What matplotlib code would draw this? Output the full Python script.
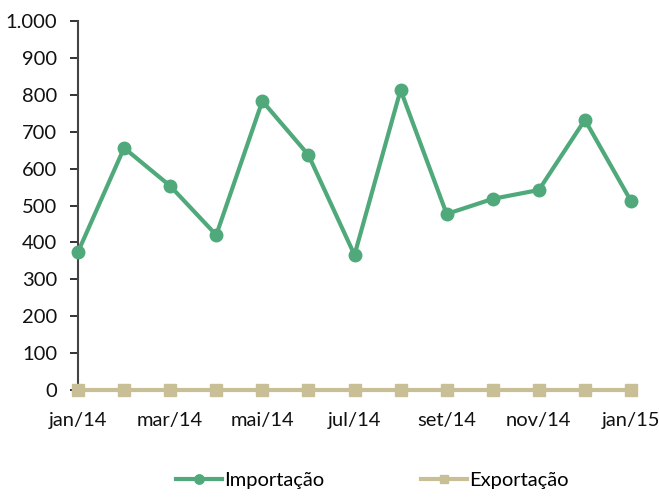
import matplotlib.pyplot as plt
from matplotlib.ticker import FuncFormatter

plt.rcParams['font.family'] = ['Lato', 'DejaVu Sans']

months = ['jan/14', 'fev/14', 'mar/14', 'abr/14', 'mai/14', 'jun/14', 'jul/14',
          'ago/14', 'set/14', 'out/14', 'nov/14', 'dez/14', 'jan/15']
importacao = [374, 656, 553, 420, 783, 637, 366, 813, 477, 518, 542, 732, 512]
exportacao = [0, 0, 0, 0, 0, 0, 0, 0, 0, 0, 0, 0, 0]

fig = plt.figure(figsize=(6.59, 4.98), dpi=100)
ax = fig.add_axes([78 / 659, 1 - 390 / 498, (631 - 78) / 659, (390 - 21) / 498])

x = list(range(len(months)))
ax.plot(x, importacao, color='#4FA97A', lw=3, marker='o', ms=9, label='Importação',
        clip_on=False, zorder=3)
ax.plot(x, exportacao, color='#C9BF97', lw=3, marker='s', ms=8, label='Exportação',
        clip_on=False, zorder=3)

ax.set_xlim(0, 12)
ax.set_ylim(0, 1000)
ax.set_yticks(range(0, 1001, 100))
ax.yaxis.set_major_formatter(FuncFormatter(lambda v, p: f'{int(v):,}'.replace(',', '.')))
ax.set_xticks(x[::2])
ax.set_xticklabels(months[::2])
ax.tick_params(axis='both', labelsize=14.5, colors='#111111', length=6, width=1.2, direction='out')
ax.tick_params(axis='y', pad=9)
ax.tick_params(axis='x', length=0, pad=16)

for s in ['top', 'right']:
    ax.spines[s].set_visible(False)
ax.spines['left'].set_color('#444444')
ax.spines['left'].set_linewidth(1.5)
ax.spines['bottom'].set_visible(False)

fig.legend(loc='lower center', bbox_to_anchor=(0.565, -0.018), ncol=2, frameon=False,
           fontsize=14.5, columnspacing=4.8, handlelength=2.3, handletextpad=0.1,
           markerscale=0.75)

fig.savefig('out.png', dpi=100)
